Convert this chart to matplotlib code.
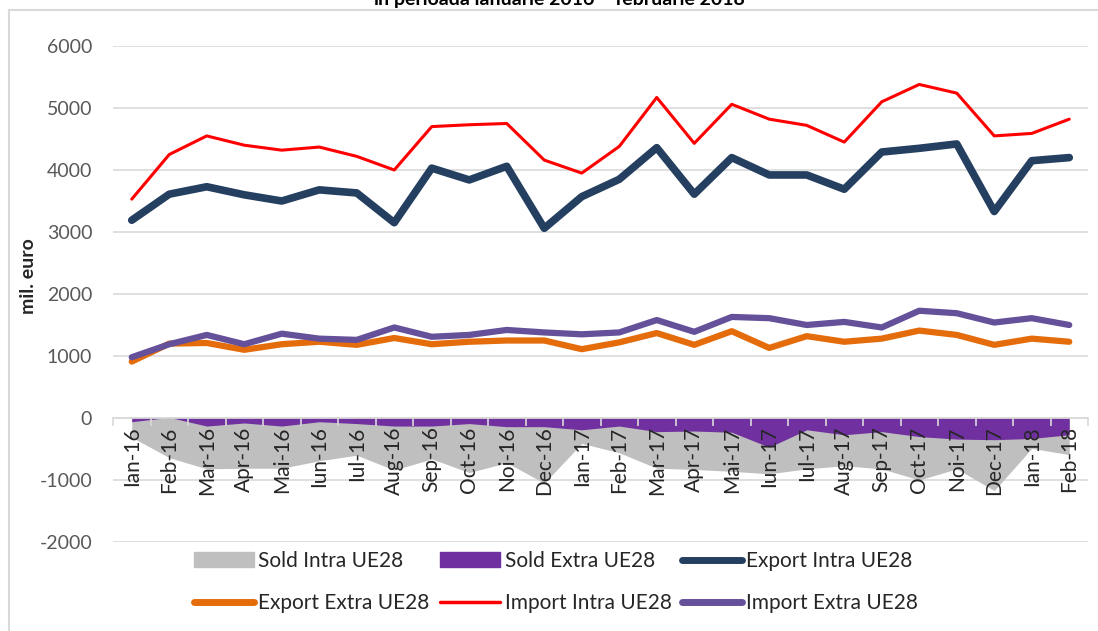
import numpy as np
import matplotlib.pyplot as plt
from matplotlib.lines import Line2D
from matplotlib.patches import Rectangle, Patch

plt.rcParams['font.family'] = ['Lato', 'DejaVu Sans']
plt.rcParams['axes.unicode_minus'] = False

months = ['Ian-16', 'Feb-16', 'Mar-16', 'Apr-16', 'Mai-16', 'Iun-16', 'Iul-16', 'Aug-16',
          'Sep-16', 'Oct-16', 'Noi-16', 'Dec-16', 'Ian-17', 'Feb-17', 'Mar-17', 'Apr-17',
          'Mai-17', 'Iun-17', 'Iul-17', 'Aug-17', 'Sep-17', 'Oct-17', 'Noi-17', 'Dec-17',
          'Ian-18', 'Feb-18']

export_intra = [3190, 3610, 3730, 3600, 3500, 3680, 3630, 3150, 4030, 3840, 4060, 3060, 3570,
                3850, 4360, 3610, 4200, 3920, 3920, 3690, 4290, 4350, 4420, 3330, 4150, 4200]
import_intra = [3530, 4250, 4550, 4400, 4320, 4370, 4220, 4000, 4700, 4730, 4750, 4160, 3950,
                4380, 5170, 4430, 5060, 4820, 4720, 4450, 5100, 5380, 5240, 4550, 4590, 4820]
export_extra = [910, 1200, 1210, 1100, 1190, 1230, 1180, 1290, 1190, 1230, 1250, 1250, 1110,
                1220, 1370, 1180, 1400, 1130, 1320, 1230, 1280, 1410, 1340, 1180, 1280, 1230]
import_extra = [980, 1190, 1340, 1190, 1360, 1280, 1260, 1460, 1310, 1340, 1420, 1380, 1350,
                1380, 1580, 1390, 1630, 1610, 1500, 1550, 1460, 1730, 1690, 1540, 1610, 1500]
sold_intra = [-310, -640, -820, -810, -810, -690, -600, -840, -660, -880, -720, -1050, -410,
              -560, -810, -830, -860, -900, -820, -770, -820, -1000, -820, -1170, -490, -590]
sold_extra = [-60, 10, -130, -80, -130, -60, -90, -130, -130, -90, -140, -140, -190,
              -130, -220, -210, -230, -470, -190, -270, -220, -300, -340, -350, -330, -270]

c_gray = '#BFBFBF'
c_violet = '#7030A0'
c_navy = '#243F60'
c_orange = '#E46C0A'
c_red = '#FF0000'
c_purple = '#65509A'
grid_c = '#D9D9D9'

W, H = 1098, 631
fig = plt.figure(figsize=(W / 100, H / 100), dpi=100)
ax = fig.add_axes([113 / W, 1 - 542 / H, (1088 - 113) / W, (542 - 46) / H])

x = np.arange(len(months))

ax.fill_between(x, 0, sold_intra, color=c_gray, lw=0, zorder=2)
ax.fill_between(x, 0, sold_extra, color=c_violet, lw=0, zorder=2)

ax.plot(x, export_intra, color=c_navy, lw=5.5, solid_capstyle='round', solid_joinstyle='round', zorder=3)
ax.plot(x, export_extra, color=c_orange, lw=4.5, solid_capstyle='round', solid_joinstyle='round', zorder=3)
ax.plot(x, import_intra, color=c_red, lw=2.2, solid_capstyle='round', solid_joinstyle='round', zorder=3)
ax.plot(x, import_extra, color=c_purple, lw=4.5, solid_capstyle='round', solid_joinstyle='round', zorder=3)

ax.set_xlim(-0.5, len(months) - 0.5)
ax.set_ylim(-2000, 6000)
ax.set_yticks(np.arange(-2000, 6001, 1000))
ax.yaxis.grid(True, color=grid_c, lw=1.2)
ax.set_axisbelow(True)
# month labels sit on top of the areas
ax.xaxis.set_zorder(4)

for s in ['top', 'right', 'left']:
    ax.spines[s].set_visible(False)
ax.spines['bottom'].set_position(('data', 0))
ax.spines['bottom'].set_color(grid_c)
ax.spines['bottom'].set_linewidth(1.2)
ax.spines['bottom'].set_zorder(4)

ax.set_xticks(x)
ax.set_xticklabels(months, rotation=90, fontsize=15, color='#262626')
ax.set_xticks(np.arange(-0.5, len(months), 1), minor=True)
ax.tick_params(axis='x', which='major', length=0, pad=6)
ax.tick_params(axis='x', which='minor', length=6, width=1.2, color=grid_c, direction='out')
ax.tick_params(axis='y', length=0, pad=15, labelsize=14, labelcolor='#595959')
for t in ax.get_xticklabels():
    t.set_verticalalignment('top')

fig.text(28 / W, 1 - 276 / H, 'mil. euro', rotation=90, ha='center', va='center',
         fontsize=14, fontweight='bold', color='#262626')

fig.text(560 / W, 1 - 5 / H, 'în perioada ianuarie 2016 – februarie 2018', ha='center',
         va='baseline', fontsize=14, fontweight='bold', color='#000000')

# chart frame
fig.add_artist(Line2D([8.5 / W, 8.5 / W], [0, 1 - 10 / H], transform=fig.transFigure,
                      color=grid_c, lw=1.5))
fig.add_artist(Line2D([8.5 / W, 1], [1 - 10 / H, 1 - 10 / H], transform=fig.transFigure,
                      color=grid_c, lw=1.5))

handles = [
    Patch(color=c_gray, label='Sold Intra UE28'),
    Line2D([], [], color=c_orange, lw=5, solid_capstyle='round', label='Export Extra UE28'),
    Patch(color=c_violet, label='Sold Extra UE28'),
    Line2D([], [], color=c_red, lw=2.5, solid_capstyle='round', label='Import Intra UE28'),
    Line2D([], [], color=c_navy, lw=5, solid_capstyle='round', label='Export Intra UE28'),
    Line2D([], [], color=c_purple, lw=5, solid_capstyle='round', label='Import Extra UE28'),
]
fig.legend(handles=handles, ncol=3, loc='center', bbox_to_anchor=(556 / W, 1 - 582 / H),
           frameon=False, fontsize=15, handlelength=2.9, handletextpad=0.2,
           columnspacing=0.5, labelspacing=1.05, borderpad=0, labelcolor='#262626')

# crop at the bottom like the source image
fig.add_artist(Rectangle((10 / W, 0), 1, 15 / H, transform=fig.transFigure,
                         facecolor='white', edgecolor='none', zorder=10))

fig.savefig('out.png', dpi=100)
